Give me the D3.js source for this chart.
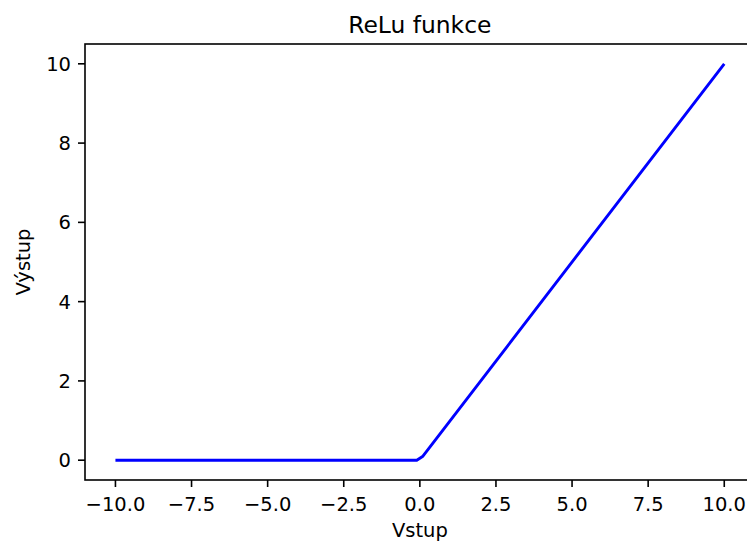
<!DOCTYPE html>
<html>
<head>
<meta charset="utf-8">
<script src="https://cdn.jsdelivr.net/npm/d3@7"></script>
<style>
  html, body { margin: 0; padding: 0; background: #fff; }
  svg { display: block; font-family: "DejaVu Sans", sans-serif; }
</style>
</head>
<body>
<svg id="chart" width="747" height="542"></svg>
<script>
// Data
const xValues = [-10, -0.101, 0.101, 10];
const yValues = [0, 0, 0.101, 10];
const xTicks = [-10, -7.5, -5, -2.5, 0, 2.5, 5, 7.5, 10];
const yTicks = [0, 2, 4, 6, 8, 10];
const titleText = "ReLu funkce";
const xLabelText = "Vstup";
const yLabelText = "Výstup";

const svg = d3.select("#chart");
const plotLeft = 85, plotRight = 754.7, plotTop = 44, plotBottom = 480;
const x = d3.scaleLinear().domain([-11, 11]).range([plotLeft, plotRight]);
const y = d3.scaleLinear().domain([-0.5, 10.5]).range([plotBottom, plotTop]);

const tickFont = 19.5;
const textColor = "#000";

// Line
const pts = xValues.map((v, i) => [v, yValues[i]]);
svg.append("path")
  .datum(pts)
  .attr("fill", "none")
  .attr("stroke", "#0000ff")
  .attr("stroke-width", 2.9)
  .attr("stroke-linejoin", "round")
  .attr("stroke-linecap", "butt")
  .attr("d", d3.line().x(d => x(d[0])).y(d => y(d[1])));

// Spines
svg.append("rect")
  .attr("x", plotLeft).attr("y", plotTop)
  .attr("width", plotRight - plotLeft).attr("height", plotBottom - plotTop)
  .attr("fill", "none").attr("stroke", "#000").attr("stroke-width", 1.6);

// X axis ticks
const xg = svg.append("g");
xTicks.forEach(t => {
  const px = x(t);
  xg.append("line").attr("x1", px).attr("x2", px).attr("y1", plotBottom).attr("y2", plotBottom + 7)
    .attr("stroke", "#000").attr("stroke-width", 1.6);
  xg.append("text").attr("x", px).attr("y", 511)
    .attr("text-anchor", "middle").attr("font-size", tickFont).attr("fill", textColor)
    .text(d3.format(".1f")(t));
});

// Y axis ticks
const yg = svg.append("g");
yTicks.forEach(t => {
  const py = y(t);
  yg.append("line").attr("x1", plotLeft - 7).attr("x2", plotLeft).attr("y1", py).attr("y2", py)
    .attr("stroke", "#000").attr("stroke-width", 1.6);
  yg.append("text").attr("x", 71).attr("y", py).attr("dy", "0.36em")
    .attr("text-anchor", "end").attr("font-size", tickFont).attr("fill", textColor)
    .text(d3.format("d")(t));
});

// Title
svg.append("text").attr("x", (plotLeft + plotRight) / 2).attr("y", 33)
  .attr("text-anchor", "middle").attr("font-size", 23.4).attr("fill", textColor)
  .text(titleText);

// X label
svg.append("text").attr("x", (plotLeft + plotRight) / 2).attr("y", 537)
  .attr("text-anchor", "middle").attr("font-size", tickFont).attr("fill", textColor)
  .text(xLabelText);

// Y label
svg.append("text")
  .attr("transform", `translate(29.5, ${(plotTop + plotBottom) / 2}) rotate(-90)`)
  .attr("text-anchor", "middle").attr("font-size", tickFont).attr("fill", textColor)
  .text(yLabelText);
</script>
</body>
</html>
